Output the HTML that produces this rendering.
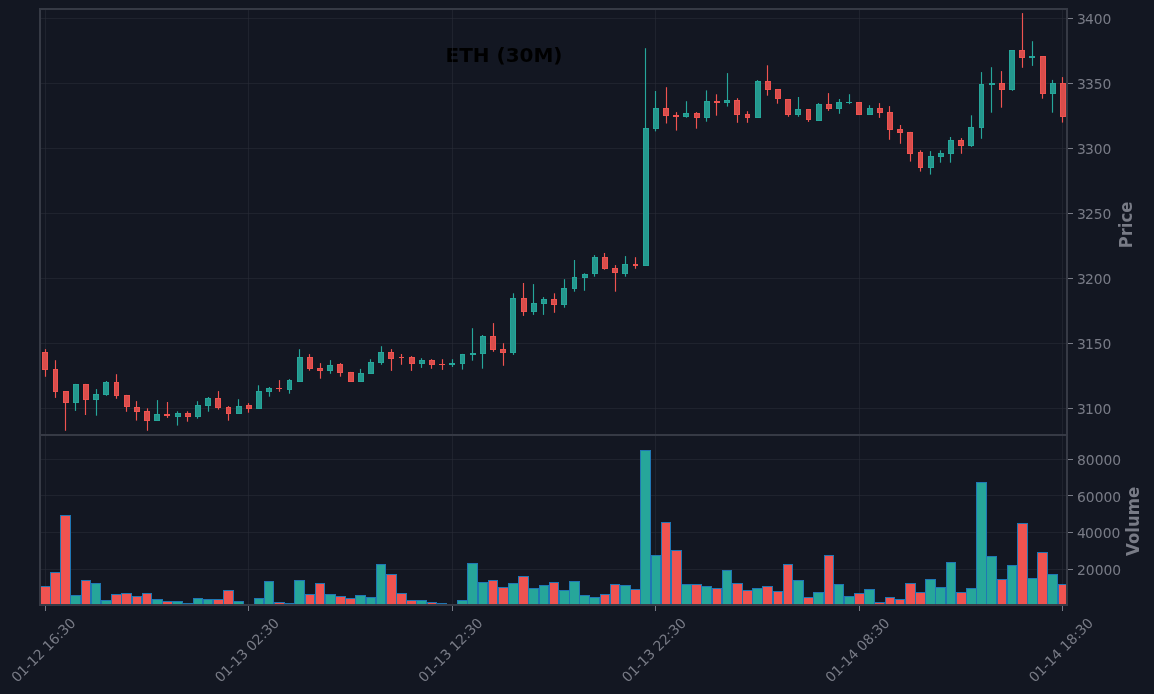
<!DOCTYPE html>
<html lang="en"><head><meta charset="utf-8"><title>ETH (30M)</title>
<style>html,body{margin:0;padding:0;background:#131722;overflow:hidden}svg{display:block}</style></head>
<body>
<svg width="1154" height="694" viewBox="0 0 1154 694" font-family="'DejaVu Sans', 'Liberation Sans', sans-serif">
<rect width="1154" height="694" fill="#131722"/>
<text x="504" y="61.6" text-anchor="middle" font-size="20" font-weight="bold" fill="#000000">ETH (30M)</text>
<g stroke="#2a2e39" stroke-opacity="0.55" stroke-width="1" fill="none">
<path d="M45.5 9V605"/>
<path d="M248.5 9V605"/>
<path d="M452.5 9V605"/>
<path d="M655.5 9V605"/>
<path d="M859.5 9V605"/>
<path d="M1062.5 9V605"/>
<path d="M40 408.5H1067"/>
<path d="M40 343.5H1067"/>
<path d="M40 278.5H1067"/>
<path d="M40 213.5H1067"/>
<path d="M40 148.5H1067"/>
<path d="M40 83.5H1067"/>
<path d="M40 18.5H1067"/>
<path d="M40 569.5H1067"/>
<path d="M40 532.5H1067"/>
<path d="M40 495.5H1067"/>
<path d="M40 459.5H1067"/>
</g>
<clipPath id="cp"><rect x="40" y="9" width="1027" height="426"/></clipPath>
<clipPath id="cv"><rect x="40" y="435" width="1027" height="170"/></clipPath>
<g clip-path="url(#cp)">
<path d="M45.5 349.1V376.8" stroke="#ef5350" stroke-width="1.15" fill="none"/>
<path d="M55.5 360.2V397.9" stroke="#ef5350" stroke-width="1.15" fill="none"/>
<path d="M65.5 391V430.8" stroke="#ef5350" stroke-width="1.15" fill="none"/>
<path d="M75.5 383.9V410.9" stroke="#26a69a" stroke-width="1.15" fill="none"/>
<path d="M85.5 383.9V415" stroke="#ef5350" stroke-width="1.15" fill="none"/>
<path d="M96.5 389.1V415.7" stroke="#26a69a" stroke-width="1.15" fill="none"/>
<path d="M106.5 381V395.8" stroke="#26a69a" stroke-width="1.15" fill="none"/>
<path d="M116.5 374.2V398.8" stroke="#ef5350" stroke-width="1.15" fill="none"/>
<path d="M126.5 394.9V411.8" stroke="#ef5350" stroke-width="1.15" fill="none"/>
<path d="M136.5 401.1V420.6" stroke="#ef5350" stroke-width="1.15" fill="none"/>
<path d="M147.5 408.3V430.8" stroke="#ef5350" stroke-width="1.15" fill="none"/>
<path d="M157.5 400.1V421" stroke="#26a69a" stroke-width="1.15" fill="none"/>
<path d="M167.5 402V417.9" stroke="#ef5350" stroke-width="1.15" fill="none"/>
<path d="M177.5 411.3V425.6" stroke="#26a69a" stroke-width="1.15" fill="none"/>
<path d="M187.5 411.3V421.7" stroke="#ef5350" stroke-width="1.15" fill="none"/>
<path d="M197.5 401.2V418.7" stroke="#26a69a" stroke-width="1.15" fill="none"/>
<path d="M208.5 397V411.7" stroke="#26a69a" stroke-width="1.15" fill="none"/>
<path d="M218.5 391.1V409.6" stroke="#ef5350" stroke-width="1.15" fill="none"/>
<path d="M228.5 406.1V420.7" stroke="#ef5350" stroke-width="1.15" fill="none"/>
<path d="M238.5 399.2V413.9" stroke="#26a69a" stroke-width="1.15" fill="none"/>
<path d="M248.5 403.1V412.7" stroke="#ef5350" stroke-width="1.15" fill="none"/>
<path d="M258.5 385.3V408.8" stroke="#26a69a" stroke-width="1.15" fill="none"/>
<path d="M269.5 387V396.7" stroke="#26a69a" stroke-width="1.15" fill="none"/>
<path d="M279.5 380.1V391.8" stroke="#ef5350" stroke-width="1.15" fill="none"/>
<path d="M289.5 379.1V393.7" stroke="#26a69a" stroke-width="1.15" fill="none"/>
<path d="M299.5 349.2V381.9" stroke="#26a69a" stroke-width="1.15" fill="none"/>
<path d="M309.5 354.1V370.7" stroke="#ef5350" stroke-width="1.15" fill="none"/>
<path d="M320.5 363.1V378.7" stroke="#ef5350" stroke-width="1.15" fill="none"/>
<path d="M330.5 360.1V373.8" stroke="#26a69a" stroke-width="1.15" fill="none"/>
<path d="M340.5 363.1V376.7" stroke="#ef5350" stroke-width="1.15" fill="none"/>
<path d="M350.5 371.9V381.9" stroke="#ef5350" stroke-width="1.15" fill="none"/>
<path d="M360.5 368.9V381.9" stroke="#26a69a" stroke-width="1.15" fill="none"/>
<path d="M370.5 359.2V373.9" stroke="#26a69a" stroke-width="1.15" fill="none"/>
<path d="M381.5 346.2V364.8" stroke="#26a69a" stroke-width="1.15" fill="none"/>
<path d="M391.5 349.1V370.9" stroke="#ef5350" stroke-width="1.15" fill="none"/>
<path d="M401.5 354V364.8" stroke="#ef5350" stroke-width="1.15" fill="none"/>
<path d="M411.5 356.1V370.9" stroke="#ef5350" stroke-width="1.15" fill="none"/>
<path d="M421.5 358.2V367.9" stroke="#26a69a" stroke-width="1.15" fill="none"/>
<path d="M431.5 359.2V368.8" stroke="#ef5350" stroke-width="1.15" fill="none"/>
<path d="M442.5 359.2V369.9" stroke="#ef5350" stroke-width="1.15" fill="none"/>
<path d="M452.5 359.2V367" stroke="#26a69a" stroke-width="1.15" fill="none"/>
<path d="M462.5 353.9V369.6" stroke="#26a69a" stroke-width="1.15" fill="none"/>
<path d="M472.5 328.2V360.7" stroke="#26a69a" stroke-width="1.15" fill="none"/>
<path d="M482.5 335V368.7" stroke="#26a69a" stroke-width="1.15" fill="none"/>
<path d="M493.5 323.1V351.8" stroke="#ef5350" stroke-width="1.15" fill="none"/>
<path d="M503.5 343.2V365.8" stroke="#ef5350" stroke-width="1.15" fill="none"/>
<path d="M513.5 293.3V354.9" stroke="#26a69a" stroke-width="1.15" fill="none"/>
<path d="M523.5 283V315.9" stroke="#ef5350" stroke-width="1.15" fill="none"/>
<path d="M533.5 284.1V314.9" stroke="#26a69a" stroke-width="1.15" fill="none"/>
<path d="M543.5 297.1V314.9" stroke="#26a69a" stroke-width="1.15" fill="none"/>
<path d="M554.5 293.3V312.8" stroke="#ef5350" stroke-width="1.15" fill="none"/>
<path d="M564.5 279.2V307.7" stroke="#26a69a" stroke-width="1.15" fill="none"/>
<path d="M574.5 260V291.7" stroke="#26a69a" stroke-width="1.15" fill="none"/>
<path d="M584.5 273.3V290.8" stroke="#26a69a" stroke-width="1.15" fill="none"/>
<path d="M594.5 255.1V276.7" stroke="#26a69a" stroke-width="1.15" fill="none"/>
<path d="M604.5 253V269.7" stroke="#ef5350" stroke-width="1.15" fill="none"/>
<path d="M615.5 265.1V291.7" stroke="#ef5350" stroke-width="1.15" fill="none"/>
<path d="M625.5 256.1V276.7" stroke="#26a69a" stroke-width="1.15" fill="none"/>
<path d="M635.5 257.2V268.8" stroke="#ef5350" stroke-width="1.15" fill="none"/>
<path d="M645.5 48.2V265.8" stroke="#26a69a" stroke-width="1.15" fill="none"/>
<path d="M655.5 91V131.4" stroke="#26a69a" stroke-width="1.15" fill="none"/>
<path d="M666.5 87.2V123.5" stroke="#ef5350" stroke-width="1.15" fill="none"/>
<path d="M676.5 112.1V130.6" stroke="#ef5350" stroke-width="1.15" fill="none"/>
<path d="M686.5 101.2V117.7" stroke="#26a69a" stroke-width="1.15" fill="none"/>
<path d="M696.5 112.1V128.7" stroke="#ef5350" stroke-width="1.15" fill="none"/>
<path d="M706.5 90.4V121.7" stroke="#26a69a" stroke-width="1.15" fill="none"/>
<path d="M716.5 94.3V115.7" stroke="#ef5350" stroke-width="1.15" fill="none"/>
<path d="M727.5 73.1V106.6" stroke="#26a69a" stroke-width="1.15" fill="none"/>
<path d="M737.5 98.2V122.8" stroke="#ef5350" stroke-width="1.15" fill="none"/>
<path d="M747.5 111.2V122.8" stroke="#ef5350" stroke-width="1.15" fill="none"/>
<path d="M757.5 80.1V117.7" stroke="#26a69a" stroke-width="1.15" fill="none"/>
<path d="M767.5 65.3V95.7" stroke="#ef5350" stroke-width="1.15" fill="none"/>
<path d="M777.5 89V103.7" stroke="#ef5350" stroke-width="1.15" fill="none"/>
<path d="M788.5 99V116.8" stroke="#ef5350" stroke-width="1.15" fill="none"/>
<path d="M798.5 97V116.8" stroke="#26a69a" stroke-width="1.15" fill="none"/>
<path d="M808.5 109V121.9" stroke="#ef5350" stroke-width="1.15" fill="none"/>
<path d="M818.5 103.1V120.9" stroke="#26a69a" stroke-width="1.15" fill="none"/>
<path d="M828.5 93.1V110.9" stroke="#ef5350" stroke-width="1.15" fill="none"/>
<path d="M839.5 99V113.8" stroke="#26a69a" stroke-width="1.15" fill="none"/>
<path d="M849.5 94.2V104.1" stroke="#26a69a" stroke-width="1.15" fill="none"/>
<path d="M859.5 102V115" stroke="#ef5350" stroke-width="1.15" fill="none"/>
<path d="M869.5 105.2V115" stroke="#26a69a" stroke-width="1.15" fill="none"/>
<path d="M879.5 103.1V117.9" stroke="#ef5350" stroke-width="1.15" fill="none"/>
<path d="M889.5 106.1V139.8" stroke="#ef5350" stroke-width="1.15" fill="none"/>
<path d="M900.5 125V143.8" stroke="#ef5350" stroke-width="1.15" fill="none"/>
<path d="M910.5 131.9V161.6" stroke="#ef5350" stroke-width="1.15" fill="none"/>
<path d="M920.5 150.3V171.6" stroke="#ef5350" stroke-width="1.15" fill="none"/>
<path d="M930.5 151.1V174.6" stroke="#26a69a" stroke-width="1.15" fill="none"/>
<path d="M940.5 150.3V162.7" stroke="#26a69a" stroke-width="1.15" fill="none"/>
<path d="M950.5 137V162.7" stroke="#26a69a" stroke-width="1.15" fill="none"/>
<path d="M961.5 138.1V153.8" stroke="#ef5350" stroke-width="1.15" fill="none"/>
<path d="M971.5 115.3V146.9" stroke="#26a69a" stroke-width="1.15" fill="none"/>
<path d="M981.5 72.1V138.8" stroke="#26a69a" stroke-width="1.15" fill="none"/>
<path d="M991.5 67.2V112.7" stroke="#26a69a" stroke-width="1.15" fill="none"/>
<path d="M1001.5 71.1V107.7" stroke="#ef5350" stroke-width="1.15" fill="none"/>
<path d="M1012.5 50V90.8" stroke="#26a69a" stroke-width="1.15" fill="none"/>
<path d="M1022.5 13.1V67.8" stroke="#ef5350" stroke-width="1.15" fill="none"/>
<path d="M1032.5 41.2V65.9" stroke="#26a69a" stroke-width="1.15" fill="none"/>
<path d="M1042.5 56V98.7" stroke="#ef5350" stroke-width="1.15" fill="none"/>
<path d="M1052.5 79.9V112.7" stroke="#26a69a" stroke-width="1.15" fill="none"/>
<path d="M1062.5 77.1V122.6" stroke="#ef5350" stroke-width="1.15" fill="none"/>
<rect x="42.5" y="352.5" width="5" height="17" fill="#d94d4b" stroke="#ef5350" stroke-width="1"/>
<rect x="53.5" y="369.5" width="4" height="22" fill="#d94d4b" stroke="#ef5350" stroke-width="1"/>
<rect x="63.5" y="391.5" width="5" height="11" fill="#d94d4b" stroke="#ef5350" stroke-width="1"/>
<rect x="73.5" y="384.5" width="5" height="18" fill="#24988e" stroke="#26a69a" stroke-width="1"/>
<rect x="83.5" y="384.5" width="5" height="15" fill="#d94d4b" stroke="#ef5350" stroke-width="1"/>
<rect x="93.5" y="394.5" width="5" height="5" fill="#24988e" stroke="#26a69a" stroke-width="1"/>
<rect x="103.5" y="382.5" width="5" height="12" fill="#24988e" stroke="#26a69a" stroke-width="1"/>
<rect x="114.5" y="382.5" width="4" height="13" fill="#d94d4b" stroke="#ef5350" stroke-width="1"/>
<rect x="124.5" y="395.5" width="5" height="11" fill="#d94d4b" stroke="#ef5350" stroke-width="1"/>
<rect x="134.5" y="407.5" width="5" height="4" fill="#d94d4b" stroke="#ef5350" stroke-width="1"/>
<rect x="144.5" y="411.5" width="5" height="9" fill="#d94d4b" stroke="#ef5350" stroke-width="1"/>
<rect x="154.5" y="414.5" width="5" height="6" fill="#24988e" stroke="#26a69a" stroke-width="1"/>
<rect x="164" y="414" width="6" height="2" fill="#ef5350"/>
<rect x="175.5" y="413.5" width="5" height="3" fill="#24988e" stroke="#26a69a" stroke-width="1"/>
<rect x="185.5" y="413.5" width="5" height="3" fill="#d94d4b" stroke="#ef5350" stroke-width="1"/>
<rect x="195.5" y="405.5" width="5" height="11" fill="#24988e" stroke="#26a69a" stroke-width="1"/>
<rect x="205.5" y="398.5" width="5" height="7" fill="#24988e" stroke="#26a69a" stroke-width="1"/>
<rect x="215.5" y="398.5" width="5" height="9" fill="#d94d4b" stroke="#ef5350" stroke-width="1"/>
<rect x="226.5" y="407.5" width="4" height="6" fill="#d94d4b" stroke="#ef5350" stroke-width="1"/>
<rect x="236.5" y="406.5" width="5" height="7" fill="#24988e" stroke="#26a69a" stroke-width="1"/>
<rect x="246.5" y="405.5" width="5" height="3" fill="#d94d4b" stroke="#ef5350" stroke-width="1"/>
<rect x="256.5" y="391.5" width="5" height="17" fill="#24988e" stroke="#26a69a" stroke-width="1"/>
<rect x="266.5" y="388.5" width="5" height="3" fill="#24988e" stroke="#26a69a" stroke-width="1"/>
<rect x="276" y="388" width="6" height="1" fill="#ef5350"/>
<rect x="287.5" y="380.5" width="4" height="9" fill="#24988e" stroke="#26a69a" stroke-width="1"/>
<rect x="297.5" y="357.5" width="5" height="24" fill="#24988e" stroke="#26a69a" stroke-width="1"/>
<rect x="307.5" y="357.5" width="5" height="11" fill="#d94d4b" stroke="#ef5350" stroke-width="1"/>
<rect x="317.5" y="368.5" width="5" height="2" fill="#d94d4b" stroke="#ef5350" stroke-width="1"/>
<rect x="327.5" y="365.5" width="5" height="5" fill="#24988e" stroke="#26a69a" stroke-width="1"/>
<rect x="337.5" y="364.5" width="5" height="8" fill="#d94d4b" stroke="#ef5350" stroke-width="1"/>
<rect x="348.5" y="372.5" width="5" height="9" fill="#d94d4b" stroke="#ef5350" stroke-width="1"/>
<rect x="358.5" y="373.5" width="5" height="8" fill="#24988e" stroke="#26a69a" stroke-width="1"/>
<rect x="368.5" y="362.5" width="5" height="11" fill="#24988e" stroke="#26a69a" stroke-width="1"/>
<rect x="378.5" y="352.5" width="5" height="10" fill="#24988e" stroke="#26a69a" stroke-width="1"/>
<rect x="388.5" y="352.5" width="5" height="6" fill="#d94d4b" stroke="#ef5350" stroke-width="1"/>
<rect x="399" y="357" width="5" height="1" fill="#ef5350"/>
<rect x="409.5" y="357.5" width="5" height="6" fill="#d94d4b" stroke="#ef5350" stroke-width="1"/>
<rect x="419.5" y="360.5" width="5" height="3" fill="#24988e" stroke="#26a69a" stroke-width="1"/>
<rect x="429.5" y="360.5" width="5" height="4" fill="#d94d4b" stroke="#ef5350" stroke-width="1"/>
<rect x="439" y="364" width="6" height="1" fill="#ef5350"/>
<rect x="449" y="363" width="6" height="2" fill="#26a69a"/>
<rect x="460.5" y="354.5" width="4" height="9" fill="#24988e" stroke="#26a69a" stroke-width="1"/>
<rect x="470" y="353" width="6" height="2" fill="#26a69a"/>
<rect x="480.5" y="336.5" width="5" height="17" fill="#24988e" stroke="#26a69a" stroke-width="1"/>
<rect x="490.5" y="336.5" width="5" height="13" fill="#d94d4b" stroke="#ef5350" stroke-width="1"/>
<rect x="500.5" y="349.5" width="5" height="3" fill="#d94d4b" stroke="#ef5350" stroke-width="1"/>
<rect x="510.5" y="298.5" width="5" height="54" fill="#24988e" stroke="#26a69a" stroke-width="1"/>
<rect x="521.5" y="298.5" width="5" height="13" fill="#d94d4b" stroke="#ef5350" stroke-width="1"/>
<rect x="531.5" y="303.5" width="5" height="8" fill="#24988e" stroke="#26a69a" stroke-width="1"/>
<rect x="541.5" y="299.5" width="5" height="4" fill="#24988e" stroke="#26a69a" stroke-width="1"/>
<rect x="551.5" y="299.5" width="5" height="5" fill="#d94d4b" stroke="#ef5350" stroke-width="1"/>
<rect x="561.5" y="288.5" width="5" height="16" fill="#24988e" stroke="#26a69a" stroke-width="1"/>
<rect x="572.5" y="277.5" width="4" height="11" fill="#24988e" stroke="#26a69a" stroke-width="1"/>
<rect x="582.5" y="274.5" width="5" height="3" fill="#24988e" stroke="#26a69a" stroke-width="1"/>
<rect x="592.5" y="257.5" width="5" height="16" fill="#24988e" stroke="#26a69a" stroke-width="1"/>
<rect x="602.5" y="257.5" width="5" height="11" fill="#d94d4b" stroke="#ef5350" stroke-width="1"/>
<rect x="612.5" y="268.5" width="5" height="4" fill="#d94d4b" stroke="#ef5350" stroke-width="1"/>
<rect x="622.5" y="264.5" width="5" height="9" fill="#24988e" stroke="#26a69a" stroke-width="1"/>
<rect x="633" y="264" width="5" height="2" fill="#ef5350"/>
<rect x="643.5" y="128.5" width="5" height="137" fill="#24988e" stroke="#26a69a" stroke-width="1"/>
<rect x="653.5" y="108.5" width="5" height="20" fill="#24988e" stroke="#26a69a" stroke-width="1"/>
<rect x="663.5" y="108.5" width="5" height="7" fill="#d94d4b" stroke="#ef5350" stroke-width="1"/>
<rect x="673" y="115" width="6" height="2" fill="#ef5350"/>
<rect x="683.5" y="113.5" width="5" height="3" fill="#24988e" stroke="#26a69a" stroke-width="1"/>
<rect x="694.5" y="113.5" width="5" height="4" fill="#d94d4b" stroke="#ef5350" stroke-width="1"/>
<rect x="704.5" y="101.5" width="5" height="16" fill="#24988e" stroke="#26a69a" stroke-width="1"/>
<rect x="714" y="101" width="6" height="2" fill="#ef5350"/>
<rect x="724.5" y="100.5" width="5" height="2" fill="#24988e" stroke="#26a69a" stroke-width="1"/>
<rect x="734.5" y="100.5" width="5" height="14" fill="#d94d4b" stroke="#ef5350" stroke-width="1"/>
<rect x="745.5" y="114.5" width="4" height="3" fill="#d94d4b" stroke="#ef5350" stroke-width="1"/>
<rect x="755.5" y="81.5" width="5" height="36" fill="#24988e" stroke="#26a69a" stroke-width="1"/>
<rect x="765.5" y="81.5" width="5" height="8" fill="#d94d4b" stroke="#ef5350" stroke-width="1"/>
<rect x="775.5" y="89.5" width="5" height="9" fill="#d94d4b" stroke="#ef5350" stroke-width="1"/>
<rect x="785.5" y="99.5" width="5" height="15" fill="#d94d4b" stroke="#ef5350" stroke-width="1"/>
<rect x="795.5" y="109.5" width="5" height="5" fill="#24988e" stroke="#26a69a" stroke-width="1"/>
<rect x="806.5" y="109.5" width="4" height="10" fill="#d94d4b" stroke="#ef5350" stroke-width="1"/>
<rect x="816.5" y="104.5" width="5" height="16" fill="#24988e" stroke="#26a69a" stroke-width="1"/>
<rect x="826.5" y="104.5" width="5" height="4" fill="#d94d4b" stroke="#ef5350" stroke-width="1"/>
<rect x="836.5" y="102.5" width="5" height="6" fill="#24988e" stroke="#26a69a" stroke-width="1"/>
<rect x="846" y="102" width="6" height="1" fill="#26a69a"/>
<rect x="856.5" y="102.5" width="5" height="12" fill="#d94d4b" stroke="#ef5350" stroke-width="1"/>
<rect x="867.5" y="108.5" width="5" height="6" fill="#24988e" stroke="#26a69a" stroke-width="1"/>
<rect x="877.5" y="108.5" width="5" height="4" fill="#d94d4b" stroke="#ef5350" stroke-width="1"/>
<rect x="887.5" y="112.5" width="5" height="17" fill="#d94d4b" stroke="#ef5350" stroke-width="1"/>
<rect x="897.5" y="129.5" width="5" height="3" fill="#d94d4b" stroke="#ef5350" stroke-width="1"/>
<rect x="907.5" y="132.5" width="5" height="21" fill="#d94d4b" stroke="#ef5350" stroke-width="1"/>
<rect x="918.5" y="152.5" width="4" height="15" fill="#d94d4b" stroke="#ef5350" stroke-width="1"/>
<rect x="928.5" y="156.5" width="5" height="11" fill="#24988e" stroke="#26a69a" stroke-width="1"/>
<rect x="938.5" y="153.5" width="5" height="3" fill="#24988e" stroke="#26a69a" stroke-width="1"/>
<rect x="948.5" y="140.5" width="5" height="13" fill="#24988e" stroke="#26a69a" stroke-width="1"/>
<rect x="958.5" y="140.5" width="5" height="5" fill="#d94d4b" stroke="#ef5350" stroke-width="1"/>
<rect x="968.5" y="127.5" width="5" height="18" fill="#24988e" stroke="#26a69a" stroke-width="1"/>
<rect x="979.5" y="84.5" width="4" height="43" fill="#24988e" stroke="#26a69a" stroke-width="1"/>
<rect x="989" y="83" width="6" height="2" fill="#26a69a"/>
<rect x="999.5" y="83.5" width="5" height="6" fill="#d94d4b" stroke="#ef5350" stroke-width="1"/>
<rect x="1009.5" y="50.5" width="5" height="39" fill="#24988e" stroke="#26a69a" stroke-width="1"/>
<rect x="1019.5" y="50.5" width="5" height="7" fill="#d94d4b" stroke="#ef5350" stroke-width="1"/>
<rect x="1029" y="56" width="6" height="2" fill="#26a69a"/>
<rect x="1040.5" y="56.5" width="5" height="37" fill="#d94d4b" stroke="#ef5350" stroke-width="1"/>
<rect x="1050.5" y="83.5" width="5" height="10" fill="#24988e" stroke="#26a69a" stroke-width="1"/>
<rect x="1060.5" y="83.5" width="5" height="33" fill="#d94d4b" stroke="#ef5350" stroke-width="1"/>
</g>
<g clip-path="url(#cv)" stroke="#1f77b4" stroke-width="1">
<rect x="40.5" y="586.5" width="10" height="19.5" fill="#ef5350"/>
<rect x="50.5" y="572.5" width="10" height="33.5" fill="#ef5350"/>
<rect x="60.5" y="515.5" width="10" height="90.5" fill="#ef5350"/>
<rect x="70.5" y="595.5" width="10" height="10.5" fill="#26a69a"/>
<rect x="81.5" y="580.5" width="9" height="25.5" fill="#ef5350"/>
<rect x="91.5" y="583.5" width="9" height="22.5" fill="#26a69a"/>
<rect x="101.5" y="600.5" width="10" height="5.5" fill="#26a69a"/>
<rect x="111.5" y="594.5" width="10" height="11.5" fill="#ef5350"/>
<rect x="121.5" y="593.5" width="10" height="12.5" fill="#ef5350"/>
<rect x="132.5" y="596.5" width="9" height="9.5" fill="#ef5350"/>
<rect x="142.5" y="593.5" width="9" height="12.5" fill="#ef5350"/>
<rect x="152.5" y="599.5" width="10" height="6.5" fill="#26a69a"/>
<rect x="162.5" y="601.5" width="10" height="4.5" fill="#ef5350"/>
<rect x="172.5" y="601.5" width="10" height="4.5" fill="#26a69a"/>
<rect x="182.5" y="603.5" width="10" height="2.5" fill="#ef5350"/>
<rect x="193.5" y="598.5" width="9" height="7.5" fill="#26a69a"/>
<rect x="203.5" y="599.5" width="9" height="6.5" fill="#26a69a"/>
<rect x="213.5" y="599.5" width="10" height="6.5" fill="#ef5350"/>
<rect x="223.5" y="590.5" width="10" height="15.5" fill="#ef5350"/>
<rect x="233.5" y="601.5" width="10" height="4.5" fill="#26a69a"/>
<rect x="254.5" y="598.5" width="9" height="7.5" fill="#26a69a"/>
<rect x="264.5" y="581.5" width="9" height="24.5" fill="#26a69a"/>
<rect x="274.5" y="602.5" width="10" height="3.5" fill="#ef5350"/>
<rect x="284.5" y="603.5" width="10" height="2.5" fill="#26a69a"/>
<rect x="294.5" y="580.5" width="10" height="25.5" fill="#26a69a"/>
<rect x="305.5" y="594.5" width="9" height="11.5" fill="#ef5350"/>
<rect x="315.5" y="583.5" width="9" height="22.5" fill="#ef5350"/>
<rect x="325.5" y="594.5" width="10" height="11.5" fill="#26a69a"/>
<rect x="335.5" y="596.5" width="10" height="9.5" fill="#ef5350"/>
<rect x="345.5" y="598.5" width="10" height="7.5" fill="#ef5350"/>
<rect x="355.5" y="595.5" width="10" height="10.5" fill="#26a69a"/>
<rect x="366.5" y="597.5" width="9" height="8.5" fill="#26a69a"/>
<rect x="376.5" y="564.5" width="9" height="41.5" fill="#26a69a"/>
<rect x="386.5" y="574.5" width="10" height="31.5" fill="#ef5350"/>
<rect x="396.5" y="593.5" width="10" height="12.5" fill="#ef5350"/>
<rect x="406.5" y="600.5" width="10" height="5.5" fill="#ef5350"/>
<rect x="416.5" y="600.5" width="10" height="5.5" fill="#26a69a"/>
<rect x="427.5" y="602.5" width="9" height="3.5" fill="#ef5350"/>
<rect x="437.5" y="603.5" width="9" height="2.5" fill="#ef5350"/>
<rect x="457.5" y="600.5" width="10" height="5.5" fill="#26a69a"/>
<rect x="467.5" y="563.5" width="10" height="42.5" fill="#26a69a"/>
<rect x="478.5" y="582.5" width="9" height="23.5" fill="#26a69a"/>
<rect x="488.5" y="580.5" width="9" height="25.5" fill="#ef5350"/>
<rect x="498.5" y="587.5" width="10" height="18.5" fill="#ef5350"/>
<rect x="508.5" y="583.5" width="10" height="22.5" fill="#26a69a"/>
<rect x="518.5" y="576.5" width="10" height="29.5" fill="#ef5350"/>
<rect x="528.5" y="588.5" width="10" height="17.5" fill="#26a69a"/>
<rect x="539.5" y="585.5" width="9" height="20.5" fill="#26a69a"/>
<rect x="549.5" y="582.5" width="9" height="23.5" fill="#ef5350"/>
<rect x="559.5" y="590.5" width="10" height="15.5" fill="#26a69a"/>
<rect x="569.5" y="581.5" width="10" height="24.5" fill="#26a69a"/>
<rect x="579.5" y="595.5" width="10" height="10.5" fill="#26a69a"/>
<rect x="589.5" y="597.5" width="10" height="8.5" fill="#26a69a"/>
<rect x="600.5" y="594.5" width="9" height="11.5" fill="#ef5350"/>
<rect x="610.5" y="584.5" width="9" height="21.5" fill="#ef5350"/>
<rect x="620.5" y="585.5" width="10" height="20.5" fill="#26a69a"/>
<rect x="630.5" y="589.5" width="10" height="16.5" fill="#ef5350"/>
<rect x="640.5" y="450.5" width="10" height="155.5" fill="#26a69a"/>
<rect x="651.5" y="555.5" width="9" height="50.5" fill="#26a69a"/>
<rect x="661.5" y="522.5" width="9" height="83.5" fill="#ef5350"/>
<rect x="671.5" y="550.5" width="10" height="55.5" fill="#ef5350"/>
<rect x="681.5" y="584.5" width="10" height="21.5" fill="#26a69a"/>
<rect x="691.5" y="584.5" width="10" height="21.5" fill="#ef5350"/>
<rect x="701.5" y="586.5" width="10" height="19.5" fill="#26a69a"/>
<rect x="712.5" y="588.5" width="9" height="17.5" fill="#ef5350"/>
<rect x="722.5" y="570.5" width="9" height="35.5" fill="#26a69a"/>
<rect x="732.5" y="583.5" width="10" height="22.5" fill="#ef5350"/>
<rect x="742.5" y="590.5" width="10" height="15.5" fill="#ef5350"/>
<rect x="752.5" y="588.5" width="10" height="17.5" fill="#26a69a"/>
<rect x="762.5" y="586.5" width="10" height="19.5" fill="#ef5350"/>
<rect x="773.5" y="591.5" width="9" height="14.5" fill="#ef5350"/>
<rect x="783.5" y="564.5" width="9" height="41.5" fill="#ef5350"/>
<rect x="793.5" y="580.5" width="10" height="25.5" fill="#26a69a"/>
<rect x="803.5" y="597.5" width="10" height="8.5" fill="#ef5350"/>
<rect x="813.5" y="592.5" width="10" height="13.5" fill="#26a69a"/>
<rect x="824.5" y="555.5" width="9" height="50.5" fill="#ef5350"/>
<rect x="834.5" y="584.5" width="9" height="21.5" fill="#26a69a"/>
<rect x="844.5" y="596.5" width="10" height="9.5" fill="#26a69a"/>
<rect x="854.5" y="593.5" width="10" height="12.5" fill="#ef5350"/>
<rect x="864.5" y="589.5" width="10" height="16.5" fill="#26a69a"/>
<rect x="874.5" y="602.5" width="10" height="3.5" fill="#ef5350"/>
<rect x="885.5" y="597.5" width="9" height="8.5" fill="#ef5350"/>
<rect x="895.5" y="599.5" width="9" height="6.5" fill="#ef5350"/>
<rect x="905.5" y="583.5" width="10" height="22.5" fill="#ef5350"/>
<rect x="915.5" y="592.5" width="10" height="13.5" fill="#ef5350"/>
<rect x="925.5" y="579.5" width="10" height="26.5" fill="#26a69a"/>
<rect x="935.5" y="587.5" width="10" height="18.5" fill="#26a69a"/>
<rect x="946.5" y="562.5" width="9" height="43.5" fill="#26a69a"/>
<rect x="956.5" y="592.5" width="10" height="13.5" fill="#ef5350"/>
<rect x="966.5" y="588.5" width="10" height="17.5" fill="#26a69a"/>
<rect x="976.5" y="482.5" width="10" height="123.5" fill="#26a69a"/>
<rect x="986.5" y="556.5" width="10" height="49.5" fill="#26a69a"/>
<rect x="997.5" y="579.5" width="9" height="26.5" fill="#ef5350"/>
<rect x="1007.5" y="565.5" width="9" height="40.5" fill="#26a69a"/>
<rect x="1017.5" y="523.5" width="10" height="82.5" fill="#ef5350"/>
<rect x="1027.5" y="578.5" width="10" height="27.5" fill="#26a69a"/>
<rect x="1037.5" y="552.5" width="10" height="53.5" fill="#ef5350"/>
<rect x="1047.5" y="574.5" width="10" height="31.5" fill="#26a69a"/>
<rect x="1058.5" y="584.5" width="9" height="21.5" fill="#ef5350"/>
</g>
<g stroke="#363a45" stroke-width="2" fill="none">
<path d="M40 8V606M1067 8V606M39 9H1068M39 435H1068M39 605H1068"/>
</g>
<g stroke="#787b86" stroke-width="1" fill="none">
<path d="M45.5 606V611"/>
<path d="M248.5 606V611"/>
<path d="M452.5 606V611"/>
<path d="M655.5 606V611"/>
<path d="M859.5 606V611"/>
<path d="M1062.5 606V611"/>
<path d="M1068 408.5H1073"/>
<path d="M1068 343.5H1073"/>
<path d="M1068 278.5H1073"/>
<path d="M1068 213.5H1073"/>
<path d="M1068 148.5H1073"/>
<path d="M1068 83.5H1073"/>
<path d="M1068 18.5H1073"/>
<path d="M1068 569.5H1073"/>
<path d="M1068 532.5H1073"/>
<path d="M1068 495.5H1073"/>
<path d="M1068 459.5H1073"/>
</g>
<g fill="#787b86" font-size="13.89">
<text x="1077" y="413.8" dx="0 -0.95">3100</text>
<text x="1077" y="348.8" dx="0 -0.95">3150</text>
<text x="1077" y="283.8" dx="0 -0.95">3200</text>
<text x="1077" y="218.8" dx="0 -0.95">3250</text>
<text x="1077" y="153.8" dx="0 -0.95">3300</text>
<text x="1077" y="88.8" dx="0 -0.95">3350</text>
<text x="1077" y="23.8" dx="0 -0.95">3400</text>
<text x="1077" y="575.1">20000</text>
<text x="1077" y="538.1" dx="0 -0.8">40000</text>
<text x="1077" y="502.1">60000</text>
<text x="1077" y="465.1">80000</text>
<text transform="translate(17.18,683.1) rotate(-45)" letter-spacing="-0.1">01-12 16:30</text>
<text transform="translate(220.72,683.1) rotate(-45)" letter-spacing="-0.1">01-13 02:30</text>
<text transform="translate(424.25,683.1) rotate(-45)" letter-spacing="-0.1">01-13 12:30</text>
<text transform="translate(627.77,683.1) rotate(-45)" letter-spacing="-0.1">01-13 22:30</text>
<text transform="translate(831.31,683.1) rotate(-45)" letter-spacing="-0.1">01-14 08:30</text>
<text transform="translate(1034.84,683.1) rotate(-45)" letter-spacing="-0.1">01-14 18:30</text>
</g>
<g fill="#787b86" font-size="16.67" font-weight="bold" text-anchor="middle">
<text transform="translate(1132.2,225) rotate(-90) scale(0.985,1.09)">Price</text>
<text transform="translate(1138.7,521.4) rotate(-90) scale(0.99,1.1)">Volume</text>
</g>
</svg>
</body></html>
